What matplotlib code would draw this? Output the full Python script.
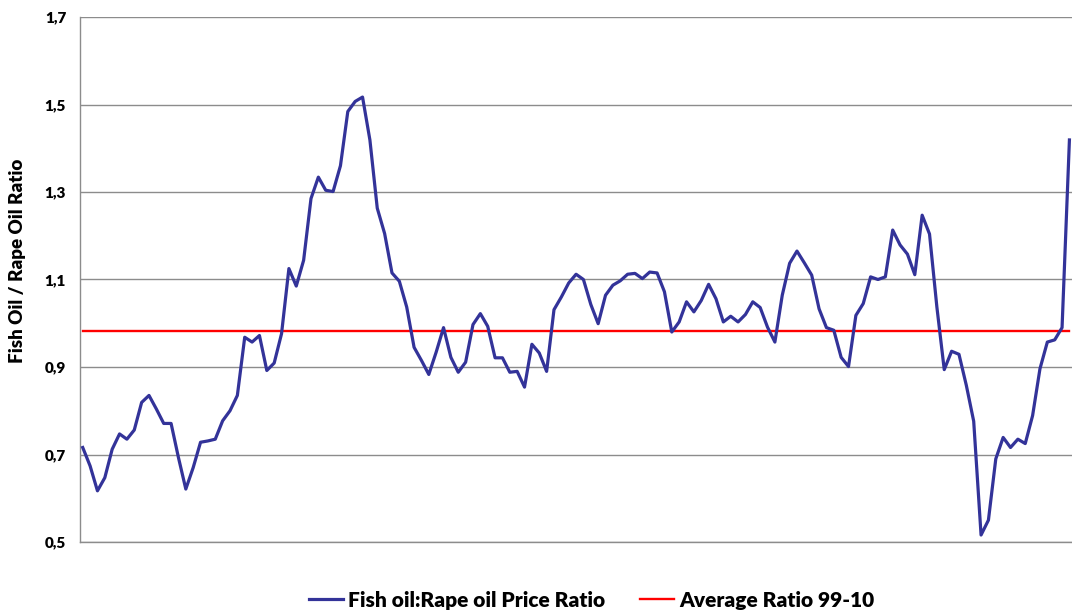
import numpy as np
import matplotlib
matplotlib.use("Agg")
import matplotlib.pyplot as plt

# monthly fish oil : rape oil price ratio
ratio = [
    0.716, 0.674, 0.617, 0.647, 0.712, 0.747, 0.735, 0.756, 0.819, 0.835,
    0.804, 0.771, 0.771, 0.693, 0.621, 0.670, 0.728, 0.731, 0.735, 0.777,
    0.800, 0.835, 0.968, 0.957, 0.972, 0.892, 0.909, 0.976, 1.125, 1.085,
    1.144, 1.285, 1.334, 1.304, 1.301, 1.360, 1.484, 1.507, 1.517, 1.419,
    1.263, 1.205, 1.115, 1.096, 1.037, 0.945, 0.915, 0.883, 0.934, 0.990,
    0.922, 0.888, 0.911, 0.997, 1.022, 0.993, 0.921, 0.921, 0.888, 0.890,
    0.854, 0.952, 0.932, 0.890, 1.031, 1.060, 1.092, 1.112, 1.100, 1.043,
    0.999, 1.064, 1.087, 1.097, 1.112, 1.114, 1.102, 1.117, 1.115, 1.072,
    0.980, 1.003, 1.049, 1.026, 1.052, 1.089, 1.056, 1.003, 1.016, 1.003,
    1.020, 1.049, 1.036, 0.991, 0.957, 1.064, 1.137, 1.165, 1.138, 1.110,
    1.033, 0.990, 0.984, 0.922, 0.901, 1.018, 1.045, 1.106, 1.100, 1.106,
    1.213, 1.179, 1.158, 1.111, 1.247, 1.204, 1.037, 0.894, 0.936, 0.929,
    0.858, 0.776, 0.516, 0.550, 0.690, 0.739, 0.716, 0.735, 0.725, 0.789,
    0.896, 0.957, 0.962, 0.990, 1.419,
]
avg_ratio = 0.983

y_ticks = [0.5, 0.7, 0.9, 1.1, 1.3, 1.5, 1.7]
y_labels = ["0,5", "0,7", "0,9", "1,1", "1,3", "1,5", "1,7"]

plt.rcParams['font.family'] = ['Lato', 'DejaVu Sans']

fig = plt.figure(figsize=(10.72, 6.11), dpi=100)
ax = fig.add_axes([80 / 1072, 1 - 542 / 611, 992 / 1072, 525 / 611])

x = np.arange(len(ratio))
ax.plot(x, ratio, color='#333399', lw=2.3, label='Fish oil:Rape oil Price Ratio',
        solid_joinstyle='round', zorder=3)
ax.plot(x, [avg_ratio] * len(ratio), color='#ff0000', lw=1.7,
        label='Average Ratio 99-10', zorder=2)

ax.set_xlim(-0.37, len(ratio) - 1 + 0.35)
ax.set_ylim(0.5, 1.7)
ax.set_yticks(y_ticks)
ax.set_yticklabels(y_labels, fontsize=11, fontweight='heavy')
ax.set_xticks([])
ax.tick_params(axis='y', length=0, pad=10)
ax.grid(True, axis='y', color='#8c8c8c', lw=1)
ax.set_axisbelow(True)

for side in ['top', 'right']:
    ax.spines[side].set_visible(False)
for side in ['left', 'bottom']:
    ax.spines[side].set_color('#8c8c8c')
    ax.spines[side].set_linewidth(1)

ax.set_ylabel('Fish Oil / Rape Oil Ratio', fontsize=13.5, fontweight='heavy')
ax.yaxis.set_label_coords(-0.054, 0.535)

fig.legend(loc='center', bbox_to_anchor=(0.552, 1 - 600 / 611), ncol=2, frameon=False,
           prop={'weight': 'heavy', 'size': 15}, handlelength=1.6, columnspacing=1.7,
           handletextpad=0.25, borderpad=0.1)

fig.savefig('out.png', dpi=100)
